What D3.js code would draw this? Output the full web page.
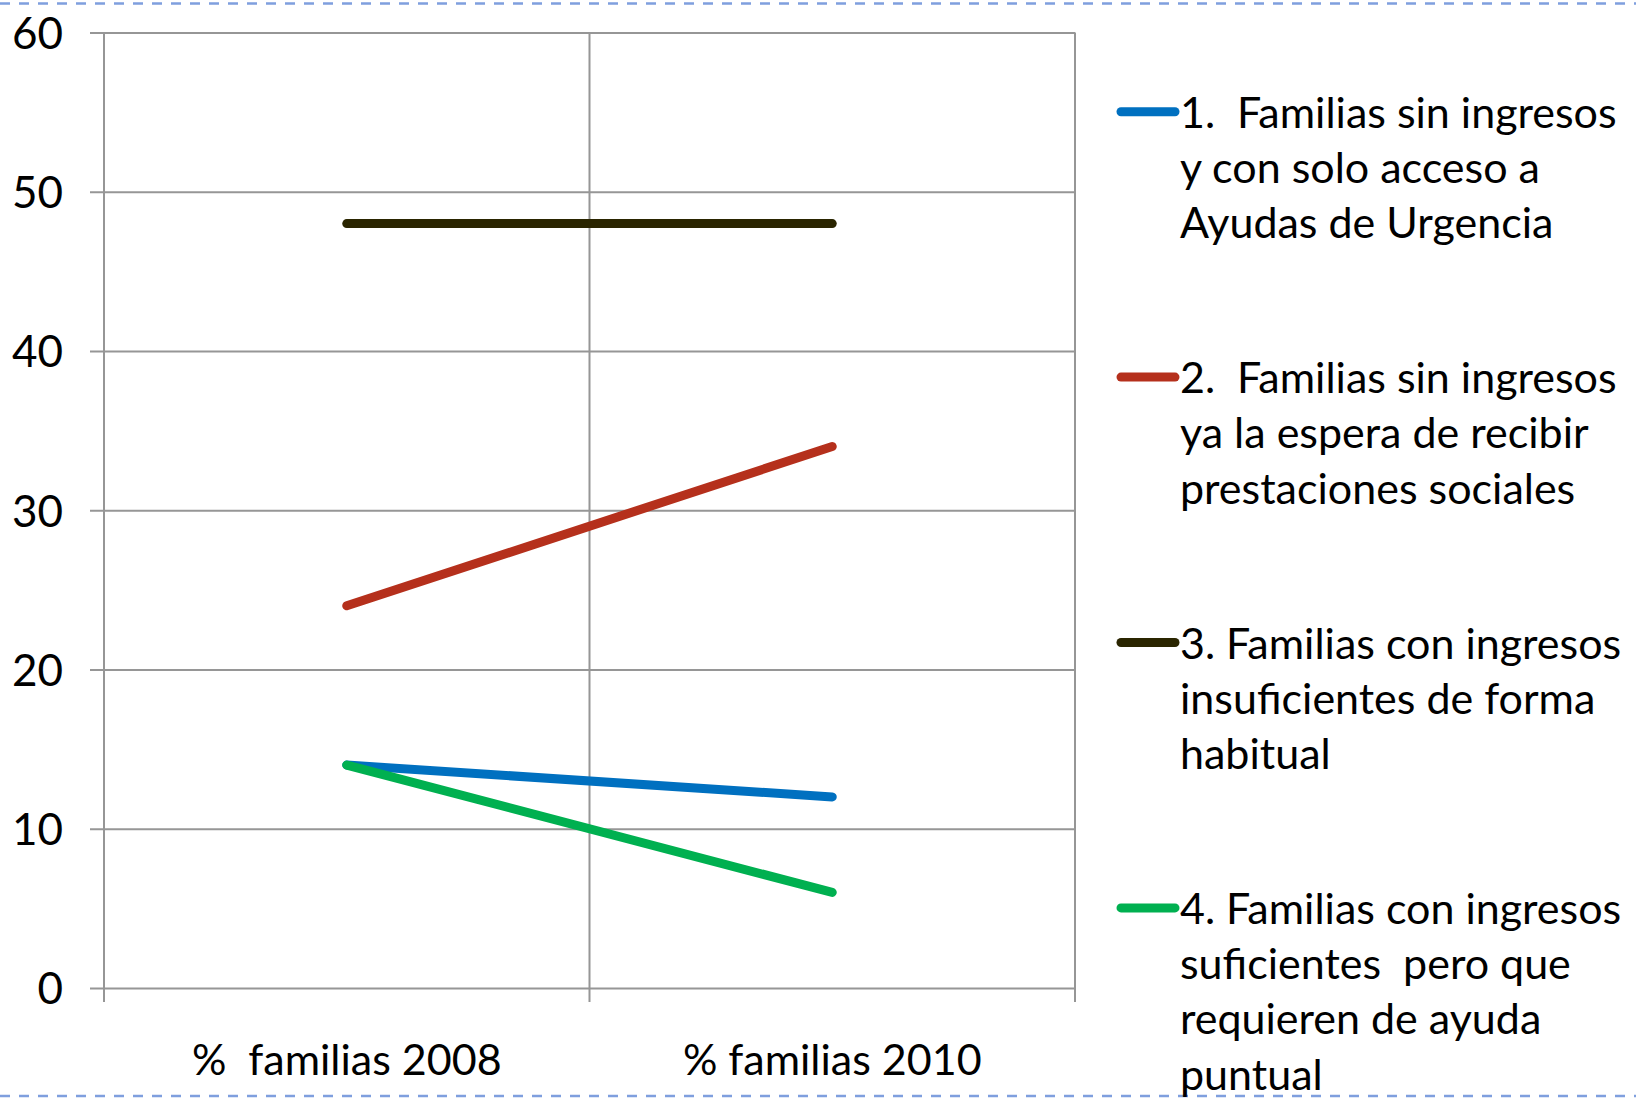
<!DOCTYPE html>
<html>
<head>
<meta charset="utf-8">
<script src="https://cdn.jsdelivr.net/npm/d3@7"></script>
<style>
  html, body { margin: 0; padding: 0; background: #fff; }
  svg { display: block; }
  text { font-family: Lato, "Open Sans", sans-serif; fill: #000; white-space: pre; }
</style>
</head>
<body>
<svg id="chart"></svg>
<script>
let width = 1636,
    height = 1098;

// data
const categories = ['%  familias 2008', '% familias 2010'];
const yTicks = [0, 10, 20, 30, 40, 50, 60];
const seriesLabels = [
    ['1.  Familias sin ingresos', 'y con solo acceso a', 'Ayudas de Urgencia'],
    ['2.  Familias sin ingresos', 'ya la espera de recibir', 'prestaciones sociales'],
    ['3. Familias con ingresos', 'insuficientes de forma', 'habitual'],
    ['4. Familias con ingresos', 'suficientes  pero que', 'requieren de ayuda', 'puntual']
];
const serie1 = [14, 12];
const serie2 = [24, 34];
const serie3 = [48, 48];
const serie4 = [14, 6];
const colors = ['#0070c0', '#b5301c', '#2a2500', '#00b050'];

const series = [serie1, serie2, serie3, serie4];

let plot = {left: 104, right: 1075, top: 32.5, bottom: 988};
let gridColor = '#969696';

let svg = d3.select('svg#chart')
    .attr('width', width)
    .attr('height', height);

let x = d3.scaleBand()
    .domain(categories)
    .range([plot.left, plot.right]);

let y = d3.scaleLinear()
    .domain([0, 60])
    .range([plot.bottom, plot.top]);

// dashed frame lines top and bottom
[3.5, 1096].forEach(yy => {
    svg.append('line')
        .attr('x1', 0).attr('x2', width)
        .attr('y1', yy).attr('y2', yy)
        .attr('stroke', '#7f9fde')
        .attr('stroke-width', 2.5)
        .attr('stroke-dasharray', '10 9');
});

// horizontal gridlines + y labels
let yAxis = d3.axisLeft(y)
    .tickValues(yTicks)
    .tickSize(-(plot.right - plot.left + 14))
    .tickFormat(d3.format('d'))
    .tickPadding(0);

let gy = svg.append('g')
    .attr('transform', `translate(${plot.right},0)`)
    .call(yAxis);
gy.select('.domain').remove();
gy.selectAll('.tick line')
    .attr('x1', 0)
    .attr('x2', -(plot.right - plot.left + 14))
    .attr('stroke', gridColor)
    .attr('stroke-width', 2);
gy.selectAll('.tick text')
    .attr('x', -(plot.right - 63))
    .attr('dy', '0.36em')
    .attr('font-size', 44)
    .attr('font-family', 'Lato, sans-serif')
    .attr('fill', '#000');

// vertical gridlines at category boundaries
let bounds = categories.map(c => x(c)).concat([x(categories[categories.length - 1]) + x.bandwidth()]);
svg.selectAll('line.vgrid')
    .data(bounds)
    .join('line')
    .attr('class', 'vgrid')
    .attr('x1', d => d).attr('x2', d => d)
    .attr('y1', plot.top).attr('y2', plot.bottom + 14)
    .attr('stroke', gridColor)
    .attr('stroke-width', 2);

// x labels
svg.selectAll('text.xlabel')
    .data(categories)
    .join('text')
    .attr('class', 'xlabel')
    .attr('x', d => x(d) + x.bandwidth() / 2)
    .attr('y', 1075)
    .attr('text-anchor', 'middle')
    .attr('font-size', 43)
    .text(d => d);

// series lines
let line = d3.line()
    .x((d, i) => x(categories[i]) + x.bandwidth() / 2)
    .y(d => y(d));

svg.selectAll('path.serie')
    .data(series)
    .join('path')
    .attr('class', 'serie')
    .attr('d', d => line(d))
    .attr('fill', 'none')
    .attr('stroke', (d, i) => colors[i])
    .attr('stroke-width', 9)
    .attr('stroke-linecap', 'round')
    .attr('stroke-linejoin', 'round');

// legend
let legend = svg.append('g');
let item = legend.selectAll('g.item')
    .data(seriesLabels)
    .join('g')
    .attr('class', 'item')
    .attr('transform', (d, i) => `translate(0,${111.7 + i * 265.4})`);

item.append('line')
    .attr('x1', 1121).attr('x2', 1175)
    .attr('y1', 0).attr('y2', 0)
    .attr('stroke', (d, i) => colors[i])
    .attr('stroke-width', 9)
    .attr('stroke-linecap', 'round');

item.selectAll('text')
    .data(d => d)
    .join('text')
    .attr('x', 1180)
    .attr('y', (d, j) => 16 + j * 55.3)
    .attr('font-size', 43)
    .text(d => d);
</script>
</body>
</html>
